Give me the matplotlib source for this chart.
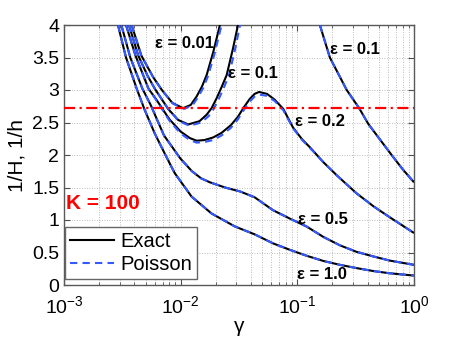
import numpy as np
import matplotlib
matplotlib.use("Agg")
import matplotlib.pyplot as plt
from matplotlib.lines import Line2D

plt.rcParams.update({"font.family": ["Liberation Sans", "DejaVu Sans"],
                     "mathtext.fontset": "custom", "mathtext.rm": "Liberation Sans",
                     "mathtext.it": "Liberation Sans:italic", "mathtext.bf": "Liberation Sans:bold"})

# ── curves (gamma, 1/H) ──────────────────────────────────────────────────────────
# eps = 0.01
g_e001 = [0.0038, 0.0046, 0.0058, 0.0069, 0.0085, 0.0105, 0.0122, 0.0137, 0.0152, 0.0167, 0.019, 0.0217]
y_e001 = [4.0, 3.53, 3.2, 3.0, 2.80, 2.72, 2.77, 2.90, 3.05, 3.23, 3.58, 4.0]
gp_e001 = [0.0038, 0.0046, 0.0058, 0.0069, 0.0086, 0.0107, 0.0126, 0.0141, 0.0157, 0.0172, 0.0196, 0.0224]
yp_e001 = [4.0, 3.53, 3.2, 3.0, 2.79, 2.71, 2.76, 2.89, 3.04, 3.22, 3.57, 4.0]
# eps = 0.1 (left family)
g_e01 = [0.0036, 0.00433, 0.0052, 0.006, 0.0078, 0.0095, 0.0116, 0.0145, 0.0167, 0.0184, 0.0203, 0.0225, 0.0248, 0.0281, 0.031]
y_e01 = [4.0, 3.53, 3.22, 3.02, 2.71, 2.54, 2.47, 2.52, 2.62, 2.72, 2.87, 3.05, 3.23, 3.64, 4.0]
gp_e01 = [0.0036, 0.00433, 0.0052, 0.006, 0.0079, 0.0097, 0.0119, 0.0150, 0.0174, 0.0192, 0.0212, 0.0235, 0.0259, 0.0293, 0.0323]
yp_e01 = [4.0, 3.53, 3.22, 3.02, 2.70, 2.52, 2.45, 2.50, 2.60, 2.71, 2.86, 3.04, 3.22, 3.63, 4.0]
# eps = 0.2
g_e02 = [0.0034, 0.0041, 0.0053, 0.0062, 0.0080, 0.0100, 0.0120, 0.0137, 0.0160, 0.0190, 0.0224, 0.0270,
         0.031, 0.035, 0.039, 0.043, 0.047, 0.055, 0.064, 0.0757, 0.092, 0.11, 0.128, 0.167, 0.22, 0.322,
         0.45, 0.622, 1.0]
y_e02 = [4.0, 3.53, 3.02, 2.85, 2.55, 2.36, 2.26, 2.22, 2.23, 2.27, 2.34, 2.46, 2.59, 2.74, 2.86, 2.94,
         2.97, 2.94, 2.85, 2.71, 2.42, 2.24, 2.12, 1.89, 1.68, 1.41, 1.21, 1.04, 0.80]
yp_e02 = [4.0, 3.53, 3.02, 2.84, 2.53, 2.33, 2.23, 2.19, 2.20, 2.23, 2.30, 2.42, 2.55, 2.70, 2.82, 2.90,
          2.93, 2.91, 2.83, 2.69, 2.41, 2.23, 2.11, 1.89, 1.68, 1.41, 1.21, 1.04, 0.80]
# eps = 0.5
g_e05 = [0.0031, 0.0037, 0.0047, 0.0055, 0.0072, 0.0099, 0.0125, 0.015, 0.0178, 0.024, 0.0322, 0.043,
         0.062, 0.0866, 0.12, 0.167, 0.232, 0.322, 0.447, 0.622, 1.0]
y_e05 = [4.0, 3.5, 3.02, 2.78, 2.30, 1.95, 1.75, 1.64, 1.58, 1.50, 1.44, 1.35, 1.15, 1.02, 0.90, 0.74,
         0.61, 0.51, 0.44, 0.375, 0.31]
# eps = 1.0
g_e10 = [0.0029, 0.0034, 0.0042, 0.0049, 0.0060, 0.0075, 0.0089, 0.0124, 0.0184, 0.0292, 0.043, 0.062,
         0.0866, 0.12, 0.167, 0.232, 0.322, 0.447, 0.622, 1.0]
y_e10 = [4.0, 3.5, 3.02, 2.70, 2.33, 1.98, 1.72, 1.36, 1.10, 0.90, 0.78, 0.64, 0.54, 0.45, 0.37, 0.31,
         0.26, 0.215, 0.18, 0.145]
# eps = 0.1 (right curve)
g_r01 = [0.156, 0.19, 0.265, 0.339, 0.405, 0.52, 0.643, 0.80, 1.0]
y_r01 = [4.0, 3.5, 3.0, 2.72, 2.48, 2.22, 2.0, 1.78, 1.58]

E_LINE = np.e
K = 100

LABELS = [("ε = 0.01", 0.00603, 3.72), ("ε = 0.1", 0.0254, 3.25), ("ε = 0.1", 0.19, 3.62),
          ("ε = 0.2", 0.0953, 2.51), ("ε = 0.5", 0.101, 1.0), ("ε = 1.0", 0.0993, 0.154)]

EXACT = [(g_e001, y_e001), (g_e01, y_e01), (g_e02, y_e02), (g_e05, y_e05), (g_e10, y_e10), (g_r01, y_r01)]
POISS = [(gp_e001, yp_e001), (gp_e01, yp_e01), (g_e02, yp_e02), (g_e05, y_e05), (g_e10, y_e10), (g_r01, y_r01)]

BLUE = (0.2, 0.35, 1.0)

fig = plt.figure(figsize=(4.57, 3.43), dpi=100)
ax = fig.add_axes([64 / 457, 58 / 343, 350 / 457, 260 / 343])

for (ge, ye), (gp, yp) in zip(EXACT, POISS):
    ax.plot(ge, ye, color="black", lw=1.5, solid_capstyle="butt", zorder=3)
    ln, = ax.plot(gp, yp, color=BLUE, lw=1.5, zorder=4)
    ln.set_dashes((3.5, 2.5))

ax.axhline(E_LINE, color="red", lw=1.6, ls=(0, (5, 2, 1, 2)), zorder=5)

for txt, x, y in LABELS:
    ax.text(x, y, txt, fontsize=12, fontweight="bold", ha="left", va="center", zorder=6)
ax.text(0.00105, 1.25, f"K = {K}", color="red", fontsize=15, fontweight="bold", ha="left", va="center")

ax.set_xscale("log")
ax.set_xlim(1e-3, 1)
ax.set_ylim(0, 4)
ax.set_yticks(np.arange(0, 4.01, 0.5))
ax.set_yticklabels(["0", "0.5", "1", "1.5", "2", "2.5", "3", "3.5", "4"])
ax.grid(True, which="major", color="0.65", ls=(0, (1, 2)), lw=0.6)
ax.grid(True, which="minor", axis="x", color="0.65", ls=(0, (1, 2)), lw=0.6)
ax.tick_params(which="both", direction="in", top=True, right=True, labelsize=14, color="0.3")
ax.tick_params(which="major", length=4)
ax.tick_params(which="minor", length=2)
ax.tick_params(axis="x", which="major", pad=7)
for s in ax.spines.values():
    s.set_color("0.35"); s.set_linewidth(1.0)

ax.set_xlabel("γ", fontsize=15, labelpad=0)
ax.set_ylabel("1/H, 1/h", fontsize=15, labelpad=4)

h = [Line2D([0], [0], color="black", lw=1.5), Line2D([0], [0], color=BLUE, lw=1.5, dashes=(3.5, 2.5))]
leg = ax.legend(h, ["Exact", "Poisson"], loc="lower left", bbox_to_anchor=(0.003, 0.022), borderaxespad=0,
                fontsize=14.5, fancybox=False, framealpha=1, edgecolor="0.4", handlelength=2.2,
                handletextpad=0.3, borderpad=0.25, labelspacing=0.2)
leg.get_frame().set_linewidth(1.0)
leg.set_zorder(10)

fig.savefig("out.png", dpi=100, facecolor="white")
